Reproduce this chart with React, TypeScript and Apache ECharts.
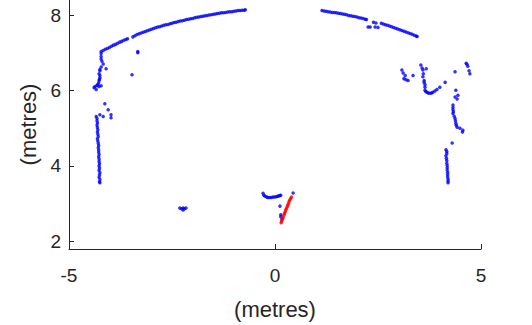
import React, { useEffect, useRef } from "react";
import * as echarts from "echarts";

const xTicks = [-5, 0, 5];
const yTicks = [2, 4, 6, 8];

const farWallLeft: number[][] = [
  [-4.22, 7.04], [-4.17, 7.07], [-4.12, 7.1], [-4.07, 7.12], [-4.02, 7.15], [-3.97, 7.18], [-3.92, 7.21],
  [-3.87, 7.23], [-3.82, 7.26], [-3.77, 7.29], [-3.72, 7.31], [-3.67, 7.34], [-3.62, 7.36], [-3.58, 7.38],
  [-3.45, 7.43], [-3.4, 7.46], [-3.35, 7.49], [-3.3, 7.51], [-3.25, 7.53], [-3.2, 7.55], [-3.15, 7.57],
  [-3.1, 7.59], [-3.05, 7.61], [-3.0, 7.63], [-2.95, 7.65], [-2.9, 7.67], [-2.85, 7.69], [-2.8, 7.7],
  [-2.75, 7.72], [-2.7, 7.74], [-2.65, 7.75], [-2.6, 7.76], [-2.55, 7.78], [-2.5, 7.79], [-2.45, 7.81],
  [-2.4, 7.82], [-2.35, 7.84], [-2.3, 7.85], [-2.25, 7.86], [-2.2, 7.87], [-2.15, 7.89], [-2.1, 7.9],
  [-2.05, 7.91], [-2.0, 7.92], [-1.95, 7.94], [-1.9, 7.95], [-1.85, 7.96], [-1.8, 7.97], [-1.75, 7.98],
  [-1.7, 7.99], [-1.65, 8.0], [-1.6, 8.01], [-1.55, 8.02], [-1.5, 8.03], [-1.45, 8.04], [-1.4, 8.05],
  [-1.35, 8.06], [-1.3, 8.07], [-1.25, 8.07], [-1.2, 8.08], [-1.15, 8.09], [-1.1, 8.1], [-1.05, 8.1],
  [-1.0, 8.11], [-0.95, 8.12], [-0.9, 8.13], [-0.85, 8.13], [-0.8, 8.14], [-0.75, 8.14], [-0.72, 8.15],
  [-3.33, 7.04], [-3.33, 7.01], [-3.47, 6.42],
];

const farWallRight: number[][] = [
  [1.14, 8.13], [1.19, 8.12], [1.24, 8.11], [1.29, 8.1], [1.34, 8.09], [1.39, 8.08], [1.44, 8.08],
  [1.49, 8.07], [1.54, 8.06], [1.59, 8.05], [1.64, 8.04], [1.69, 8.03], [1.74, 8.02], [1.79, 8.0],
  [1.84, 7.99], [1.89, 7.98], [1.94, 7.97], [1.99, 7.96], [2.04, 7.94], [2.09, 7.93], [2.14, 7.92],
  [2.19, 7.9], [2.22, 7.89],
  [2.39, 7.82], [2.45, 7.8], [2.26, 7.69], [2.31, 7.69], [2.43, 7.69], [2.5, 7.68],
  [2.58, 7.79], [2.63, 7.77], [2.68, 7.75], [2.73, 7.74], [2.78, 7.72], [2.83, 7.7], [2.88, 7.68],
  [2.93, 7.66], [2.98, 7.64], [3.03, 7.62], [3.08, 7.6], [3.13, 7.58], [3.18, 7.56], [3.23, 7.54],
  [3.28, 7.52], [3.33, 7.5], [3.38, 7.47], [3.43, 7.45], [3.45, 7.44],
];

const leftWall: number[][] = [
  [-4.22, 6.99], [-4.22, 6.91], [-4.22, 6.84], [-4.2, 6.78], [-4.17, 6.71], [-4.1, 6.58], [-4.22, 6.63],
  [-4.25, 6.56], [-4.25, 6.53], [-4.27, 6.45], [-4.25, 6.4], [-4.25, 6.34], [-4.26, 6.3], [-4.27, 6.27],
  [-4.28, 6.21], [-4.3, 6.16], [-4.32, 6.14], [-4.37, 6.11], [-4.39, 6.08], [-4.34, 6.03], [-4.27, 6.11],
  [-4.22, 6.13],
  [-4.13, 5.65], [-4.05, 5.49], [-3.98, 5.36], [-3.98, 5.28], [-4.34, 5.31], [-4.25, 5.36], [-4.17, 5.31],
  [-4.32, 5.26], [-4.32, 5.2], [-4.31, 5.14], [-4.32, 5.08], [-4.31, 5.02], [-4.3, 4.96], [-4.31, 4.9],
  [-4.3, 4.84], [-4.29, 4.78], [-4.31, 4.72], [-4.3, 4.66], [-4.29, 4.6], [-4.28, 4.54], [-4.29, 4.48],
  [-4.28, 4.42], [-4.28, 4.36], [-4.27, 4.3], [-4.28, 4.24], [-4.27, 4.18], [-4.27, 4.12], [-4.26, 4.06],
  [-4.27, 4.0], [-4.26, 3.94], [-4.27, 3.88], [-4.25, 3.82], [-4.26, 3.76], [-4.27, 3.7], [-4.25, 3.64],
  [-4.26, 3.58], [-4.25, 3.55],
];

const rightWall: number[][] = [
  [3.08, 6.55], [3.11, 6.47], [3.16, 6.4], [3.13, 6.32], [3.18, 6.29], [3.23, 6.27], [3.35, 6.4],
  [3.54, 6.68], [3.57, 6.6], [3.59, 6.55], [3.67, 6.58], [3.6, 6.45], [3.59, 6.37], [3.62, 6.27],
  [3.62, 6.22], [3.64, 6.16], [3.64, 6.09], [3.64, 6.01], [3.66, 5.98], [3.69, 5.96], [3.72, 5.94],
  [3.76, 5.93], [3.8, 5.94], [3.83, 5.96], [3.88, 5.99], [3.93, 6.03], [4.0, 6.09], [4.13, 6.22],
  [4.37, 6.5],
  [4.64, 6.73], [4.66, 6.7], [4.68, 6.65], [4.71, 6.53], [4.73, 6.45],
  [4.39, 6.01], [4.44, 5.88], [4.37, 5.83], [4.42, 5.78],
  [4.32, 5.62], [4.32, 5.55], [4.32, 5.49], [4.33, 5.44], [4.32, 5.39], [4.35, 5.32], [4.37, 5.26],
  [4.38, 5.2], [4.39, 5.13], [4.4, 5.08], [4.42, 5.03], [4.49, 5.0], [4.56, 4.95], [4.55, 4.9],
  [4.3, 4.61],
  [4.15, 4.43], [4.17, 4.38], [4.17, 4.33], [4.15, 4.27], [4.16, 4.2], [4.17, 4.14], [4.17, 4.07],
  [4.18, 4.01], [4.18, 3.95], [4.18, 3.89], [4.19, 3.83], [4.19, 3.77], [4.19, 3.71], [4.2, 3.65],
  [4.2, 3.6], [4.2, 3.55],
];

const nearObjects: number[][] = [
  [-2.31, 2.88], [-2.23, 2.88], [-2.16, 2.88], [-2.23, 2.83], [-2.27, 2.86], [-2.2, 2.86],
  [-0.29, 3.27], [-0.27, 3.22], [-0.24, 3.19], [-0.2, 3.17], [-0.17, 3.16], [-0.13, 3.16], [-0.09, 3.16],
  [-0.05, 3.17], [-0.01, 3.17], [0.03, 3.18], [0.06, 3.19], [0.09, 3.2], [0.12, 3.21], [0.14, 3.22],
  [0.12, 2.93], [0.14, 2.7], [0.14, 2.65], [0.17, 2.59], [0.44, 3.28],
];

const detected: number[][] = [
  [0.15, 2.49], [0.16, 2.53], [0.17, 2.57], [0.19, 2.61], [0.2, 2.65], [0.22, 2.7], [0.23, 2.74],
  [0.25, 2.78], [0.26, 2.83], [0.28, 2.87], [0.3, 2.92], [0.31, 2.96], [0.33, 3.0], [0.34, 3.05],
  [0.36, 3.09], [0.38, 3.13], [0.4, 3.17],
];

const FONT = "'Liberation Sans', Arial, Helvetica, sans-serif";
const AXIS = "#262626";

export default function App() {
  const ref = useRef<HTMLDivElement>(null);
  useEffect(() => {
    if (!ref.current) return;
    const chart = echarts.init(ref.current, null, { renderer: "svg" });
    const blue = [...farWallLeft, ...farWallRight, ...leftWall, ...rightWall, ...nearObjects];
    chart.setOption({
      animation: false,
      backgroundColor: "#ffffff",
      textStyle: { fontFamily: FONT },
      grid: { left: 69, right: 51, top: 0, bottom: 69 },
      xAxis: {
        type: "value",
        min: -5,
        max: 5,
        interval: 5,
        name: "(metres)",
        nameLocation: "middle",
        nameGap: 49,
        nameTextStyle: { fontSize: 22, color: AXIS, fontFamily: FONT },
        axisLine: { show: true, onZero: false, lineStyle: { color: AXIS, width: 1 } },
        axisTick: { show: true, inside: true, length: 5, lineStyle: { color: AXIS } },
        axisLabel: { fontSize: 19, color: AXIS, margin: 17, fontFamily: FONT, customValues: xTicks },
        splitLine: { show: false },
      },
      yAxis: {
        type: "value",
        min: 1.79,
        max: 8.41,
        name: "(metres)",
        nameLocation: "middle",
        nameGap: 28,
        nameTextStyle: { fontSize: 22, color: AXIS, fontFamily: FONT },
        axisLine: { show: true, onZero: false, lineStyle: { color: AXIS, width: 1 } },
        axisTick: { show: true, inside: true, length: 5, lineStyle: { color: AXIS }, customValues: yTicks },
        axisLabel: { fontSize: 19, color: AXIS, margin: 8, fontFamily: FONT, customValues: yTicks },
        splitLine: { show: false },
      },
      series: [
        {
          type: "scatter",
          data: blue,
          symbol: "circle",
          symbolSize: 3.5,
          itemStyle: { color: "#0000ff" },
          silent: true,
        },
        {
          type: "scatter",
          data: detected,
          symbol: "circle",
          symbolSize: 3.5,
          itemStyle: { color: "#ff0000" },
          silent: true,
          z: 3,
        },
      ],
    });
    return () => chart.dispose();
  }, []);
  return (
    <div
      ref={ref}
      style={{ position: "absolute", left: 0, top: 0, width: 532, height: 325, background: "#fff" }}
    />
  );
}
